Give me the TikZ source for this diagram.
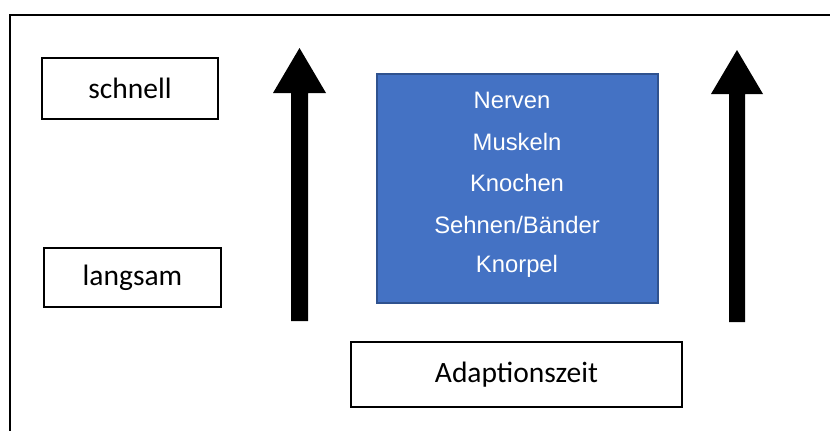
\documentclass[tikz,border=0pt]{standalone}
\usepackage{fontspec}
\setmainfont{Carlito}
\newfontfamily\armfont{Liberation Sans}
\definecolor{boxblue}{HTML}{4472C4}
\definecolor{boxedge}{HTML}{2F528F}
\begin{document}
\begin{tikzpicture}[x=1pt,y=-1pt,
  labelbox/.style={draw=black,line width=1.5pt,fill=white,inner sep=0pt,
    font=\fontsize{29.5}{31}\selectfont},
  organ/.style={text=white,inner sep=0pt,font=\armfont\fontsize{23.8}{25}\selectfont},
  bigarrow/.style={fill=black}]
  \useasboundingbox (0,0) rectangle (830,431);
  % open frame: top and left edge
  \draw[line width=2.2pt] (10,431) -- (10,15) -- (830,15);

  % speed labels
  \node[labelbox,minimum width=176pt,minimum height=61pt] (schnell) at (130,88.5) {schnell};
  \node[labelbox,minimum width=177pt,minimum height=59pt] (langsam) at (132.5,277.5) {langsam};

  % tissue block
  \node[draw=boxedge,fill=boxblue,line width=1.5pt,minimum width=281pt,minimum height=229pt,inner sep=0pt]
    (tissue) at (517.5,188.5) {};
  \node[organ] (nerven)  at (512,100) {Nerven};
  \node[organ] (muskeln) at (517,142) {Muskeln};
  \node[organ] (knochen) at (517,183) {Knochen};
  \node[organ] (sehnen)  at (517,225) {Sehnen/Bänder};
  \node[organ] (knorpel) at (517,266) {Knorpel};

  % time label
  \node[labelbox,minimum width=331pt,minimum height=65pt] (zeit) at (516.5,374.5) {Adaptionszeit};

  % upward block arrows
  \fill[bigarrow] (291,321) -- (291,93) -- (273,93) -- (299.5,48) -- (326,93) -- (308,93) -- (308,321) -- cycle;
  \fill[bigarrow] (729,322) -- (729,94) -- (711,94) -- (737,50) -- (763,94) -- (745,94) -- (745,322) -- cycle;
\end{tikzpicture}
\end{document}
